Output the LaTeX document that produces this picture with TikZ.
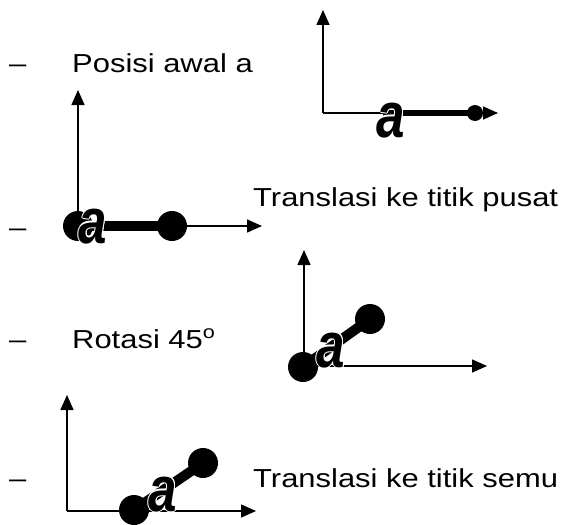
\documentclass[tikz,border=0pt]{standalone}
\usepackage{fontspec}
\setmainfont{Liberation Sans}
\usepackage[copies]{contour}
\contourlength{1.1pt}
\contournumber{8}
\usetikzlibrary{arrows.meta}
\newcommand\slima{\scalebox{0.8}[1]{\contour{white}{a}}}
\begin{document}
\begin{tikzpicture}[x={(1pt,0pt)}, y={(0pt,-1pt)},
  axis/.style={line width=1.5pt, -{Triangle[length=15pt,width=13pt]}},
  bar/.style={line width=10pt},
  thinbar/.style={line width=6pt},
  dot/.style={circle, fill=black, inner sep=0pt, minimum size=30pt},
  smalldot/.style={circle, fill=black, inner sep=0pt, minimum size=16pt},
  lbl/.style={anchor=base west, inner sep=0pt, font=\fontsize{26}{30}\selectfont},
  dashlbl/.style={anchor=base west, inner sep=0pt, font=\fontsize{26}{30}\selectfont},
  biga/.style={anchor=base, inner sep=0pt, font=\fontsize{64}{70}\selectfont\bfseries\itshape}
]
\useasboundingbox (0,0) rectangle (569,524);

% ---------- Panel 1 ----------
\node[dashlbl] (d1) at (9,73) {\scalebox{1.19}[1]{–}};
\node[lbl] (t1) at (72,73) {\scalebox{1.19}[1]{Posisi awal a}};
\coordinate (o1) at (323,113);
\coordinate (y1) at (323,10);
\coordinate (x1) at (498,113);
\draw[axis] (o1) -- (y1);
\draw[axis] (o1) -- (x1);
\coordinate (s1) at (383,113);
\node[smalldot] (p1b) at (475,113) {};
\draw[thinbar] (s1) -- (p1b.center);
\node[biga] (a1) at (391,137) {\slima};

% ---------- Panel 2 ----------
\node[dashlbl] (d2) at (9,236) {\scalebox{1.19}[1]{–}};
\node[lbl] (t2) at (253,206) {\scalebox{1.19}[1]{Translasi ke titik pusat}};
\coordinate (o2) at (78,226);
\coordinate (y2) at (78,90);
\coordinate (x2) at (262,226);
\draw[axis] (o2) -- (y2);
\draw[axis] (o2) -- (x2);
\node[dot] (p2a) at (78,226) {};
\node[dot] (p2b) at (172,226) {};
\draw[bar] (p2a.center) -- (p2b.center);
\node[biga] (a2) at (93,243) {\slima};

% ---------- Panel 3 ----------
\node[dashlbl] (d3) at (9,348) {\scalebox{1.19}[1]{–}};
\node[lbl] (t3) at (72,348) {\scalebox{1.19}[1]{Rotasi 45\textsuperscript{o}}};
\coordinate (o3) at (304,366);
\coordinate (y3) at (304,250);
\coordinate (x3) at (487,366);
\draw[axis] (o3) -- (y3);
\draw[axis] (o3) -- (x3);
\node[dot] (p3a) at (303,367) {};
\node[dot] (p3b) at (370,319) {};
\draw[bar] (p3a.center) -- (p3b.center);
\node[biga] (a3) at (331,367) {\slima};

% ---------- Panel 4 ----------
\node[dashlbl] (d4) at (9,487) {\scalebox{1.19}[1]{–}};
\node[lbl] (t4) at (253,487) {\scalebox{1.19}[1]{Translasi ke titik semu}};
\coordinate (o4) at (67,511);
\coordinate (y4) at (67,395);
\coordinate (x4) at (256,511);
\draw[axis] (o4) -- (y4);
\draw[axis] (o4) -- (x4);
\node[dot] (p4a) at (134,510) {};
\node[dot] (p4b) at (203,463) {};
\draw[bar] (p4a.center) -- (p4b.center);
\node[biga] (a4) at (163,511) {\slima};
\end{tikzpicture}
\end{document}
